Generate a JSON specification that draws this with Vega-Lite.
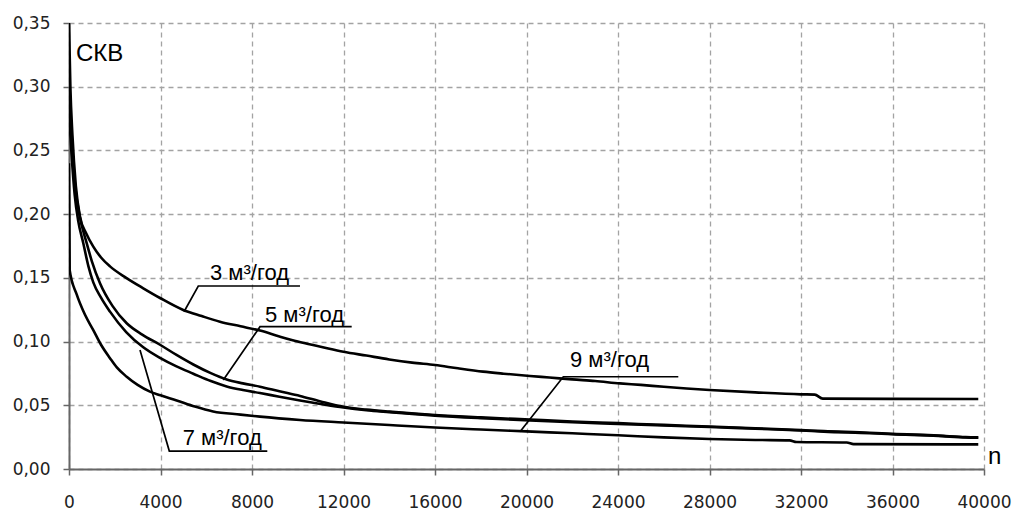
{
  "$schema": "https://vega.github.io/schema/vega-lite/v6.json",
  "width": 915,
  "height": 446,
  "autosize": {"type": "none"},
  "padding": {"left": 69, "top": 23, "right": 33, "bottom": 45},
  "background": "white",
  "config": {"view": {"stroke": null}, "font": "Liberation Sans"},
  "datasets": {
    "curves": [
      {"series": "3", "n": 0, "v": 0.35},
      {"series": "3", "n": 60, "v": 0.3},
      {"series": "3", "n": 150, "v": 0.262},
      {"series": "3", "n": 300, "v": 0.222},
      {"series": "3", "n": 481, "v": 0.198},
      {"series": "3", "n": 750, "v": 0.185},
      {"series": "3", "n": 1062, "v": 0.1745},
      {"series": "3", "n": 1400, "v": 0.166},
      {"series": "3", "n": 1792, "v": 0.159},
      {"series": "3", "n": 2500, "v": 0.15},
      {"series": "3", "n": 3247, "v": 0.1418},
      {"series": "3", "n": 4000, "v": 0.134},
      {"series": "3", "n": 4995, "v": 0.1248},
      {"series": "3", "n": 5800, "v": 0.12},
      {"series": "3", "n": 6599, "v": 0.1156},
      {"series": "3", "n": 7500, "v": 0.112},
      {"series": "3", "n": 8347, "v": 0.1086},
      {"series": "3", "n": 9200, "v": 0.104},
      {"series": "3", "n": 10000, "v": 0.1},
      {"series": "3", "n": 11000, "v": 0.096},
      {"series": "3", "n": 12000, "v": 0.092},
      {"series": "3", "n": 13000, "v": 0.089},
      {"series": "3", "n": 14000, "v": 0.086},
      {"series": "3", "n": 15000, "v": 0.0835},
      {"series": "3", "n": 16000, "v": 0.0816},
      {"series": "3", "n": 17000, "v": 0.079},
      {"series": "3", "n": 18100, "v": 0.0764},
      {"series": "3", "n": 19000, "v": 0.0748},
      {"series": "3", "n": 20150, "v": 0.073},
      {"series": "3", "n": 21000, "v": 0.0718},
      {"series": "3", "n": 22000, "v": 0.0703},
      {"series": "3", "n": 23000, "v": 0.069},
      {"series": "3", "n": 24080, "v": 0.0672},
      {"series": "3", "n": 25000, "v": 0.066},
      {"series": "3", "n": 26000, "v": 0.0645},
      {"series": "3", "n": 27000, "v": 0.0632},
      {"series": "3", "n": 28000, "v": 0.062},
      {"series": "3", "n": 30000, "v": 0.0601},
      {"series": "3", "n": 32000, "v": 0.0586},
      {"series": "3", "n": 32600, "v": 0.0584},
      {"series": "3", "n": 32950, "v": 0.0552},
      {"series": "3", "n": 36000, "v": 0.055},
      {"series": "3", "n": 39750, "v": 0.0549},

      {"series": "5", "n": 0, "v": 0.3},
      {"series": "5", "n": 100, "v": 0.262},
      {"series": "5", "n": 250, "v": 0.225},
      {"series": "5", "n": 450, "v": 0.2},
      {"series": "5", "n": 773, "v": 0.1772},
      {"series": "5", "n": 1000, "v": 0.163},
      {"series": "5", "n": 1355, "v": 0.1458},
      {"series": "5", "n": 1900, "v": 0.128},
      {"series": "5", "n": 2522, "v": 0.1144},
      {"series": "5", "n": 3200, "v": 0.1055},
      {"series": "5", "n": 3978, "v": 0.0975},
      {"series": "5", "n": 4700, "v": 0.0895},
      {"series": "5", "n": 5434, "v": 0.082},
      {"series": "5", "n": 6200, "v": 0.0752},
      {"series": "5", "n": 6893, "v": 0.0702},
      {"series": "5", "n": 7600, "v": 0.0672},
      {"series": "5", "n": 8350, "v": 0.0646},
      {"series": "5", "n": 9200, "v": 0.061},
      {"series": "5", "n": 10100, "v": 0.0573},
      {"series": "5", "n": 11000, "v": 0.053},
      {"series": "5", "n": 12000, "v": 0.0488},
      {"series": "5", "n": 13000, "v": 0.0466},
      {"series": "5", "n": 14000, "v": 0.045},
      {"series": "5", "n": 16000, "v": 0.0424},
      {"series": "5", "n": 18000, "v": 0.0405},
      {"series": "5", "n": 20150, "v": 0.0388},
      {"series": "5", "n": 22000, "v": 0.0373},
      {"series": "5", "n": 24000, "v": 0.036},
      {"series": "5", "n": 26000, "v": 0.0346},
      {"series": "5", "n": 28000, "v": 0.0334},
      {"series": "5", "n": 30000, "v": 0.032},
      {"series": "5", "n": 32000, "v": 0.0305},
      {"series": "5", "n": 33000, "v": 0.0297},
      {"series": "5", "n": 35000, "v": 0.0285},
      {"series": "5", "n": 36000, "v": 0.0276},
      {"series": "5", "n": 38000, "v": 0.0262},
      {"series": "5", "n": 39200, "v": 0.025},
      {"series": "5", "n": 39750, "v": 0.0248},

      {"series": "7", "n": 0, "v": 0.28},
      {"series": "7", "n": 100, "v": 0.25},
      {"series": "7", "n": 250, "v": 0.215},
      {"series": "7", "n": 400, "v": 0.195},
      {"series": "7", "n": 625, "v": 0.1772},
      {"series": "7", "n": 850, "v": 0.159},
      {"series": "7", "n": 1062, "v": 0.1465},
      {"series": "7", "n": 1400, "v": 0.1345},
      {"series": "7", "n": 1792, "v": 0.1235},
      {"series": "7", "n": 2500, "v": 0.1075},
      {"series": "7", "n": 3247, "v": 0.0955},
      {"series": "7", "n": 3977, "v": 0.0872},
      {"series": "7", "n": 4700, "v": 0.0805},
      {"series": "7", "n": 5434, "v": 0.0748},
      {"series": "7", "n": 6200, "v": 0.069},
      {"series": "7", "n": 6893, "v": 0.0648},
      {"series": "7", "n": 7600, "v": 0.062},
      {"series": "7", "n": 8350, "v": 0.0596},
      {"series": "7", "n": 9200, "v": 0.0567},
      {"series": "7", "n": 10100, "v": 0.0537},
      {"series": "7", "n": 11000, "v": 0.051},
      {"series": "7", "n": 12000, "v": 0.0482},
      {"series": "7", "n": 13000, "v": 0.0461},
      {"series": "7", "n": 14000, "v": 0.0446},
      {"series": "7", "n": 16000, "v": 0.0419},
      {"series": "7", "n": 18000, "v": 0.0399},
      {"series": "7", "n": 20150, "v": 0.0381},
      {"series": "7", "n": 22000, "v": 0.0367},
      {"series": "7", "n": 24000, "v": 0.0354},
      {"series": "7", "n": 26000, "v": 0.0341},
      {"series": "7", "n": 28000, "v": 0.033},
      {"series": "7", "n": 30000, "v": 0.0316},
      {"series": "7", "n": 32000, "v": 0.0302},
      {"series": "7", "n": 33000, "v": 0.0293},
      {"series": "7", "n": 35000, "v": 0.0281},
      {"series": "7", "n": 36000, "v": 0.0273},
      {"series": "7", "n": 38000, "v": 0.026},
      {"series": "7", "n": 39200, "v": 0.0247},
      {"series": "7", "n": 39750, "v": 0.0245},

      {"series": "9", "n": 0, "v": 0.24},
      {"series": "9", "n": 30, "v": 0.156},
      {"series": "9", "n": 336, "v": 0.137},
      {"series": "9", "n": 700, "v": 0.121},
      {"series": "9", "n": 1062, "v": 0.109},
      {"series": "9", "n": 1400, "v": 0.0975},
      {"series": "9", "n": 1792, "v": 0.087},
      {"series": "9", "n": 2100, "v": 0.0795},
      {"series": "9", "n": 2522, "v": 0.0724},
      {"series": "9", "n": 3000, "v": 0.066},
      {"series": "9", "n": 3540, "v": 0.0607},
      {"series": "9", "n": 4000, "v": 0.0578},
      {"series": "9", "n": 4707, "v": 0.0538},
      {"series": "9", "n": 5500, "v": 0.049},
      {"series": "9", "n": 6300, "v": 0.0452},
      {"series": "9", "n": 7500, "v": 0.0427},
      {"series": "9", "n": 8350, "v": 0.0411},
      {"series": "9", "n": 10100, "v": 0.0385},
      {"series": "9", "n": 12000, "v": 0.0365},
      {"series": "9", "n": 14000, "v": 0.0345},
      {"series": "9", "n": 16000, "v": 0.0326},
      {"series": "9", "n": 18000, "v": 0.031},
      {"series": "9", "n": 20000, "v": 0.0295},
      {"series": "9", "n": 22000, "v": 0.028},
      {"series": "9", "n": 24000, "v": 0.0265},
      {"series": "9", "n": 26000, "v": 0.0248},
      {"series": "9", "n": 28000, "v": 0.0236},
      {"series": "9", "n": 30000, "v": 0.0228},
      {"series": "9", "n": 31500, "v": 0.0225},
      {"series": "9", "n": 31800, "v": 0.0212},
      {"series": "9", "n": 34000, "v": 0.0208},
      {"series": "9", "n": 34300, "v": 0.0195},
      {"series": "9", "n": 39750, "v": 0.0193}
    ],
    "leaders": [
      {"id": "3", "k": 0, "n": 5027, "v": 0.1234},
      {"id": "3", "k": 1, "n": 5652, "v": 0.1436},
      {"id": "3", "k": 2, "n": 10098, "v": 0.1436},
      {"id": "5", "k": 0, "n": 6745, "v": 0.0698},
      {"id": "5", "k": 1, "n": 8350, "v": 0.1117},
      {"id": "5", "k": 2, "n": 12358, "v": 0.1117},
      {"id": "7", "k": 0, "n": 3104, "v": 0.0934},
      {"id": "7", "k": 1, "n": 4385, "v": 0.0141},
      {"id": "7", "k": 2, "n": 8669, "v": 0.0141},
      {"id": "9", "k": 0, "n": 19716, "v": 0.0293},
      {"id": "9", "k": 1, "n": 21609, "v": 0.0724},
      {"id": "9", "k": 2, "n": 26636, "v": 0.0724}
    ],
    "labels": [
      {"kind": "flow", "text": "3 м³/год", "n": 6164, "v": 0.1483},
      {"kind": "flow", "text": "5 м³/год", "n": 8568, "v": 0.1156},
      {"kind": "flow", "text": "7 м³/год", "n": 4970, "v": 0.0188},
      {"kind": "flow", "text": "9 м³/год", "n": 21901, "v": 0.0798},
      {"kind": "axis", "text": "СКВ", "n": 306, "v": 0.3202},
      {"kind": "axis", "text": "n", "n": 40175, "v": 0.0039}
    ]
  },
  "encoding": {
    "x": {
      "field": "n", "type": "quantitative",
      "scale": {"domain": [0, 40000], "nice": false, "zero": false},
      "axis": {
        "title": null,
        "values": [0, 4000, 8000, 12000, 16000, 20000, 24000, 28000, 32000, 36000, 40000],
        "format": "d",
        "grid": true, "gridDash": [5, 4], "gridColor": "#a3a3a3", "gridWidth": 1.3,
        "domainColor": "#666", "domainWidth": 2,
        "tickColor": "#666", "tickWidth": 1.5, "tickSize": 6,
        "labelFont": "DejaVu Sans", "labelFontSize": 17, "labelColor": "#222",
        "labelPadding": 19, "labelFlush": false, "labelOverlap": false
      }
    },
    "y": {
      "field": "v", "type": "quantitative",
      "scale": {"domain": [0, 0.35], "nice": false},
      "axis": {
        "title": null,
        "values": [0, 0.05, 0.1, 0.15, 0.2, 0.25, 0.3, 0.35],
        "labelExpr": "replace(format(datum.value, '.2f'), '.', ',')",
        "grid": true, "gridDash": [5, 4], "gridColor": "#a3a3a3", "gridWidth": 1.3,
        "domainColor": "#666", "domainWidth": 2,
        "tickColor": "#666", "tickWidth": 1.5, "tickSize": 6,
        "labelFont": "DejaVu Sans", "labelFontSize": 17, "labelColor": "#222",
        "labelPadding": 13, "labelOverlap": false
      }
    }
  },
  "layer": [
    {
      "data": {"name": "curves"},
      "mark": {"type": "line", "color": "black", "strokeWidth": 2.6, "clip": true, "interpolate": "monotone"},
      "encoding": {"detail": {"field": "series"}, "order": {"field": "n", "type": "quantitative"}}
    },
    {
      "data": {"name": "leaders"},
      "mark": {"type": "line", "color": "black", "strokeWidth": 1.7},
      "encoding": {"detail": {"field": "id"}, "order": {"field": "k", "type": "quantitative"}}
    },
    {
      "data": {"name": "labels"},
      "transform": [{"filter": "datum.kind == 'flow'"}],
      "mark": {"type": "text", "align": "left", "baseline": "alphabetic", "font": "Liberation Sans", "fontSize": 22, "color": "black"},
      "encoding": {"text": {"field": "text"}}
    },
    {
      "data": {"name": "labels"},
      "transform": [{"filter": "datum.kind == 'axis'"}],
      "mark": {"type": "text", "align": "left", "baseline": "alphabetic", "font": "Liberation Sans", "fontSize": 24, "color": "black"},
      "encoding": {"text": {"field": "text"}}
    }
  ]
}
